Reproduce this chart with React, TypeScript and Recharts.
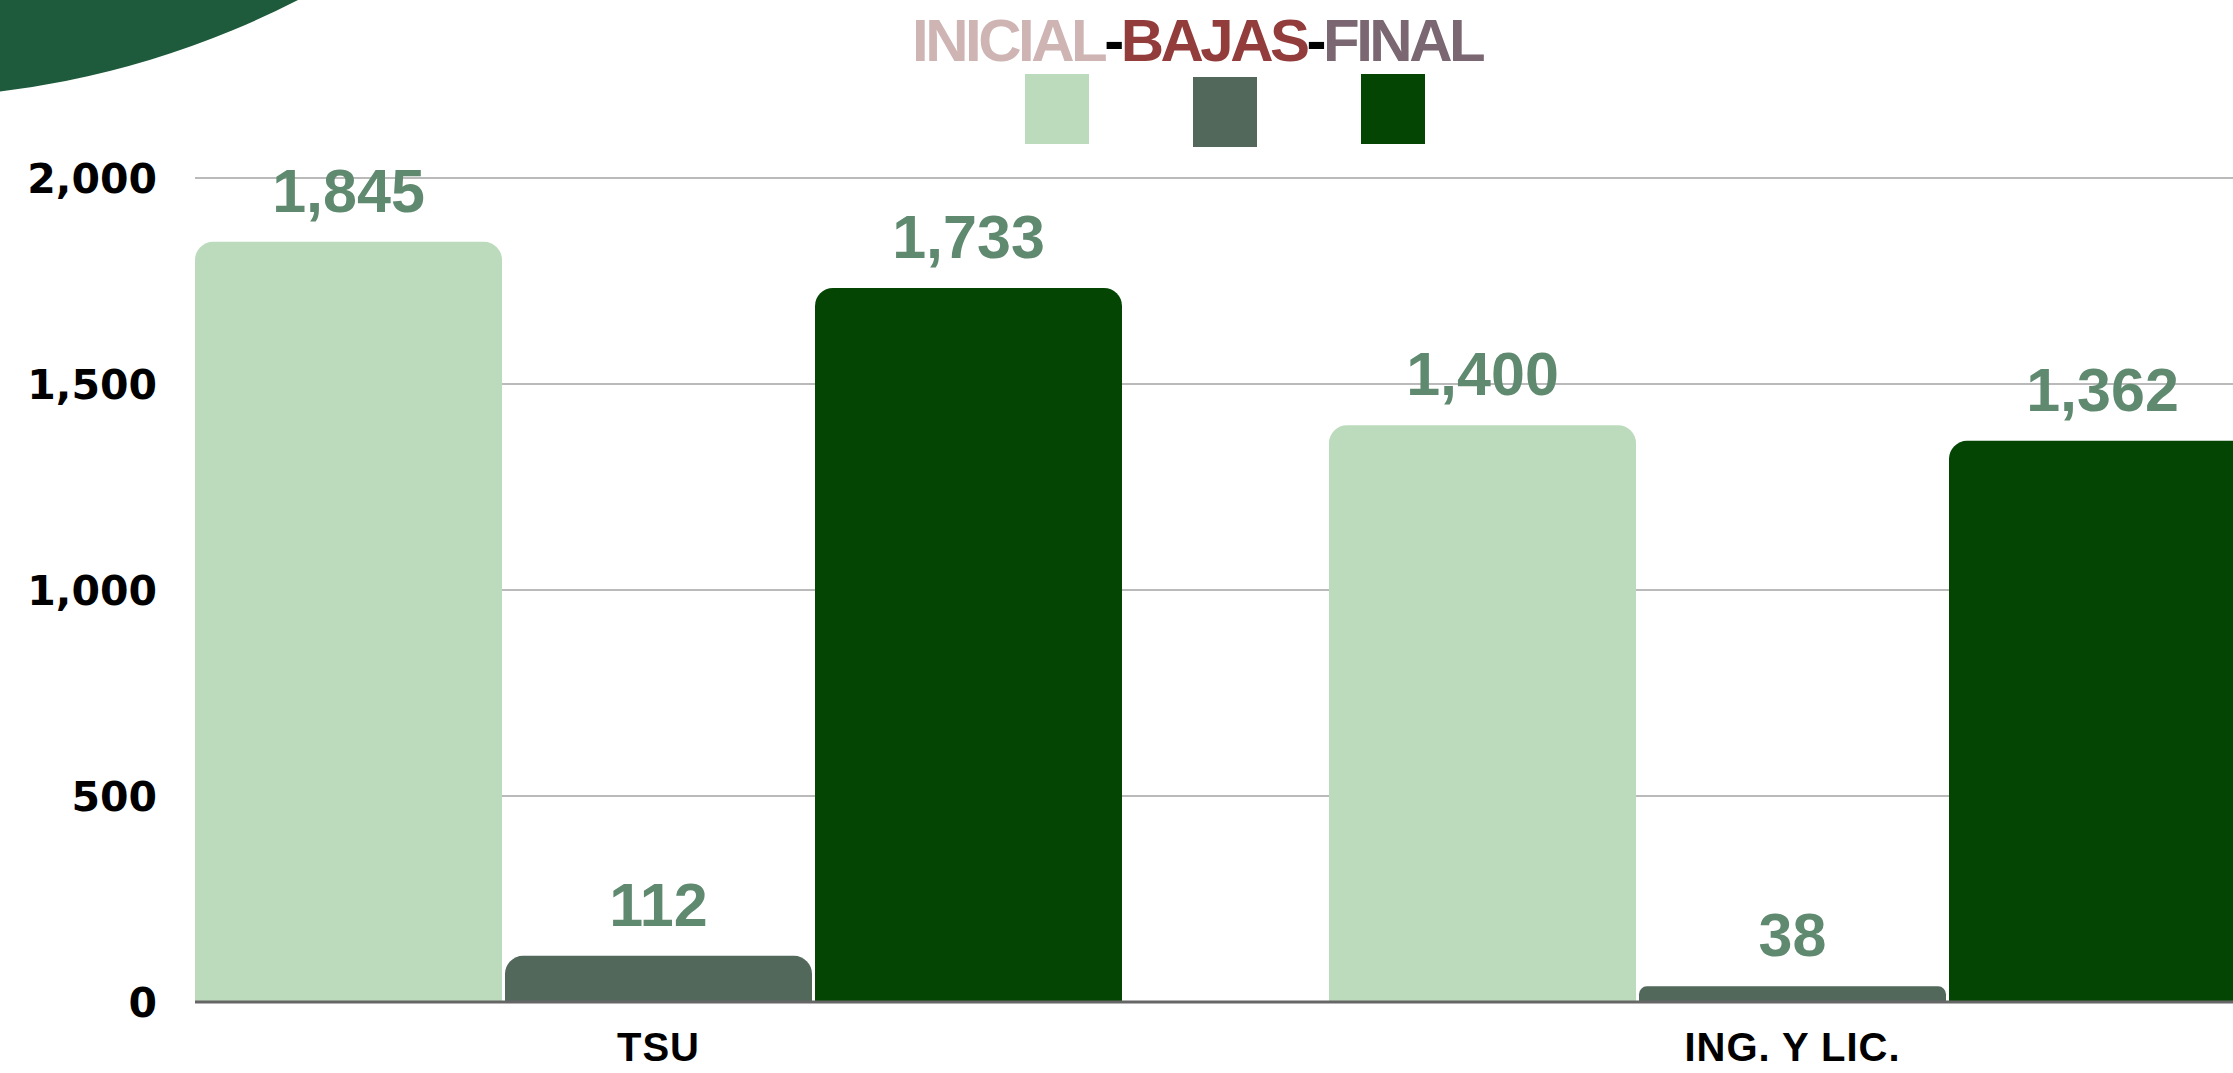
import React from "react";
import {
  BarChart,
  Bar,
  XAxis,
  YAxis,
  CartesianGrid,
  LabelList,
  Legend,
} from "recharts";

const categories = ["TSU", "ING. Y LIC."];
const inicial = [1845, 1400];
const bajas = [112, 38];
const final = [1733, 1362];
const yTicks = [0, 500, 1000, 1500, 2000];

const seriesNames = ["INICIAL", "BAJAS", "FINAL"];
const barColors = ["#bcdbbc", "#51685b", "#044504"];
const titleColors = ["#cfb4b4", "#933c3c", "#7a6771"];

const data = categories.map((name, i) => ({
  name,
  inicial: inicial[i],
  bajas: bajas[i],
  final: final[i],
}));

const W = 2233;
const H = 1073;
const FONT = "'Liberation Sans', Arial, sans-serif";

const fmt = (v: any) => Number(v).toLocaleString("en-US");

function TitleLegend(props: any) {
  // keep the series order, not the alphabetical one
  const payload = [...(props.payload || [])].sort(
    (a: any, b: any) => seriesNames.indexOf(a.value) - seriesNames.indexOf(b.value)
  );
  return (
    <div style={{ position: "relative", width: W, height: 150, pointerEvents: "none" }}>
      <div
        style={{
          position: "absolute",
          left: 912,
          top: 11,
          fontFamily: FONT,
          fontWeight: 700,
          fontSize: 60,
          lineHeight: "60px",
          letterSpacing: -3.5,
          whiteSpace: "nowrap",
        }}
      >
        {seriesNames.map((n, i) => (
          <React.Fragment key={n}>
            {i > 0 && <span style={{ color: "#000" }}>-</span>}
            <span style={{ color: titleColors[i] }}>{n}</span>
          </React.Fragment>
        ))}
      </div>
      {payload.map((entry: any, i: number) => (
        <div
          key={entry.value}
          style={{
            position: "absolute",
            left: 1025 + i * 168,
            top: i === 1 ? 77 : 74,
            width: 64,
            height: 70,
            background: entry.color,
          }}
        />
      ))}
    </div>
  );
}

export default function App() {
  return (
    <div
      style={{
        position: "absolute",
        left: 0,
        top: 0,
        width: W,
        height: H,
        overflow: "hidden",
        background: "#ffffff",
        fontFamily: FONT,
      }}
    >
      <div
        style={{
          position: "absolute",
          left: -998,
          top: -1682,
          width: 1780,
          height: 1780,
          borderRadius: "50%",
          background: "#1e5a3c",
        }}
      />
      <div style={{ position: "absolute", left: 0, top: 0 }}>
        <BarChart
          width={W}
          height={H}
          data={data}
          margin={{ top: 178, right: 0, bottom: 0, left: 0 }}
          barCategoryGap={103.5}
          barGap={3}
        >
          <CartesianGrid vertical={false} stroke="#bababa" strokeWidth={2} />
          <XAxis
            dataKey="name"
            height={71}
            padding={{ left: -103.5, right: -126.5 }}
            axisLine={{ stroke: "#666666", strokeWidth: 3 }}
            tickLine={false}
            tickMargin={25}
            tick={{ fill: "#000000", fontSize: 40, fontWeight: 700, fontFamily: FONT, letterSpacing: 1 }}
          />
          <YAxis
            width={195}
            domain={[0, 2000]}
            ticks={yTicks}
            axisLine={false}
            tickLine={false}
            tickMargin={32}
            tickFormatter={fmt}
            tick={{ fill: "#000000", fontSize: 41, fontWeight: 700, fontFamily: "'DejaVu Sans', sans-serif" }}
          />
          <Legend
            layout="horizontal"
            verticalAlign="middle"
            align="center"
            wrapperStyle={{ top: 0, left: 0, width: W }}
            content={<TitleLegend />}
          />
          {["inicial", "bajas", "final"].map((key, i) => (
            <Bar
              key={key}
              dataKey={key}
              name={seriesNames[i]}
              fill={barColors[i]}
              radius={[18, 18, 0, 0]}
              isAnimationActive={false}
            >
              <LabelList
                dataKey={key}
                position="top"
                offset={30}
                formatter={fmt}
                fill="#5f8a6f"
                fontSize={61}
                fontWeight={700}
                fontFamily={FONT}
              />
            </Bar>
          ))}
        </BarChart>
      </div>
    </div>
  );
}
